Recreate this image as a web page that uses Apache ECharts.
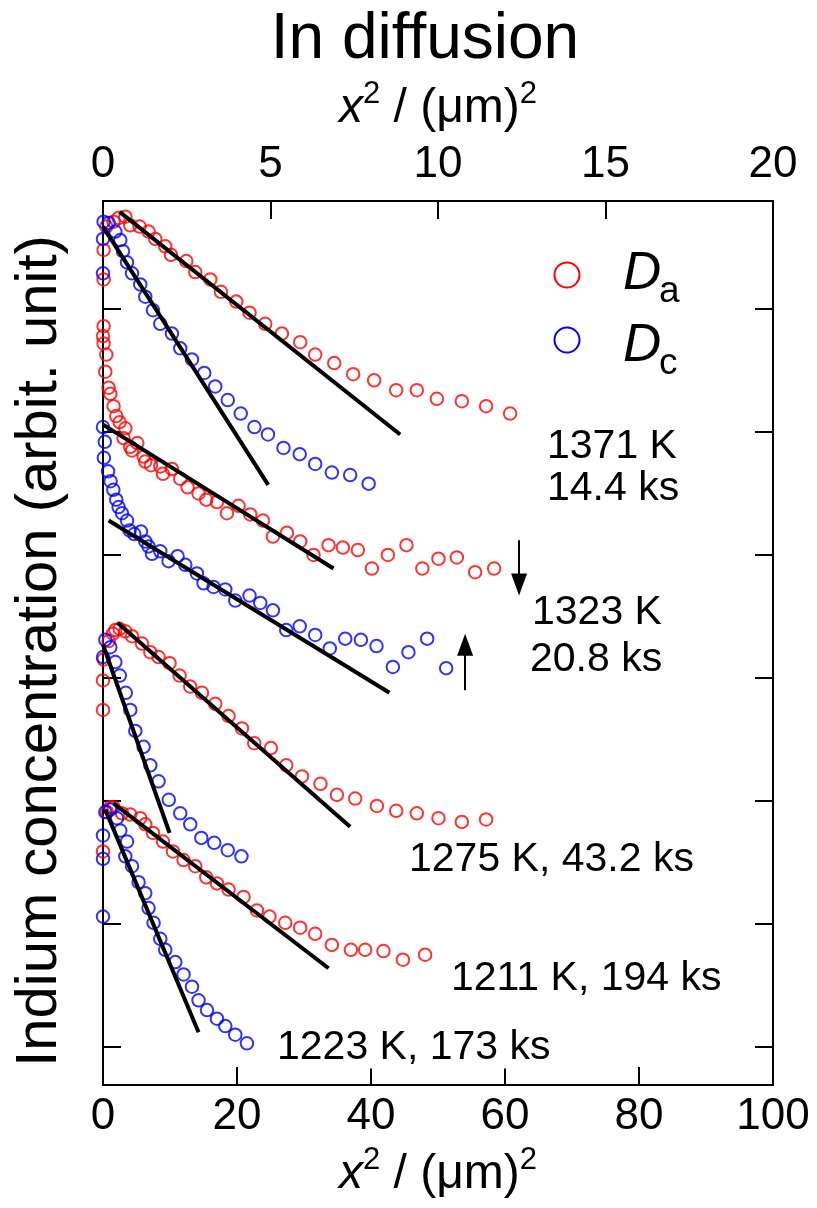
<!DOCTYPE html>
<html>
<head>
<meta charset="utf-8">
<script src="https://cdn.jsdelivr.net/npm/echarts@6/dist/echarts.min.js"></script>
<style>
  html, body { margin: 0; padding: 0; background: #fff; }
  #chart { width: 817px; height: 1208px; }
</style>
</head>
<body>
<div id="chart"></div>
<script>
// Indium depth profiles: x^2 in (um)^2 versus concentration (arbitrary, log-scaled offsets)
const bottomTicks = [0, 20, 40, 60, 80, 100];
const topTicks = [0, 5, 10, 15, 20];
const yTicks = [0, 1, 2, 3, 4, 5, 6];

// 1371 K, 14.4 ks
const da1371 = [[0.09,6.24],[0.09,6.48],[0.49,6.67],[1.58,6.71],[2.33,6.74],[3.33,6.75],[4.07,6.68],[5.46,6.67],[6.80,6.63],[7.80,6.57],[9.29,6.51],[10.14,6.44],[12.43,6.39],[13.77,6.30],[16.01,6.24],[17.60,6.14],[19.89,6.06],[21.87,5.97],[24.21,5.88],[26.70,5.80],[29.43,5.73],[31.67,5.63],[34.51,5.56],[37.34,5.47],[40.47,5.42],[43.76,5.34],[46.84,5.34],[49.83,5.27],[53.56,5.25],[57.18,5.21],[60.76,5.15]];
const dc1371 = [[0,6.29],[0,6.57],[0.09,6.71],[0.84,6.70],[1.84,6.63],[2.58,6.56],[2.98,6.47],[3.58,6.38],[4.33,6.29],[5.56,6.20],[6.31,6.10],[7.46,5.99],[8.55,5.88],[10.29,5.80],[11.53,5.68],[13.28,5.59],[15.11,5.48],[16.75,5.37],[18.62,5.26],[20.56,5.15],[22.60,5.04],[24.62,4.98],[26.94,4.87],[29.36,4.82],[31.67,4.74],[34.16,4.67],[36.89,4.65],[39.65,4.58]];

// 1323 K, 20.8 ks
const da1323 = [[0,5.78],[0.09,5.86],[0.09,5.72],[0.34,5.49],[0.49,5.63],[0.84,5.36],[1.09,5.31],[1.58,5.21],[1.98,5.13],[2.48,5.08],[3.07,4.95],[3.33,5.03],[4.07,4.88],[4.33,4.85],[5.12,4.91],[6.06,4.80],[6.31,4.76],[7.16,4.73],[8.55,4.72],[8.95,4.66],[10.29,4.70],[11.53,4.62],[12.62,4.55],[14.26,4.50],[15.41,4.45],[17.01,4.43],[18.50,4.34],[20.23,4.40],[21.98,4.33],[23.87,4.28],[25.36,4.15],[27.45,4.18],[29.43,4.11],[31.42,4.00],[33.66,4.08],[35.80,4.06],[38.04,4.04],[40.13,3.89],[42.52,4.00],[45.29,4.08],[47.66,3.89],[50.07,3.97],[52.81,3.98],[55.54,3.86],[58.38,3.89]];
const dc1323 = [[0,5.04],[0.13,4.79],[0.27,4.92],[0.76,4.68],[1.13,4.60],[1.54,4.53],[1.98,4.45],[2.33,4.39],[2.83,4.34],[3.58,4.28],[3.97,4.20],[4.67,4.17],[5.67,4.19],[6.31,4.11],[6.80,4.07],[7.31,4.01],[8.55,4.03],[9.79,3.95],[11.13,3.99],[12.28,3.92],[14.02,3.85],[15.01,3.77],[16.50,3.74],[18.25,3.72],[19.74,3.63],[21.87,3.67],[23.47,3.61],[25.36,3.55],[27.35,3.39],[29.36,3.42],[31.67,3.35],[33.85,3.24],[36.15,3.32],[38.49,3.31],[40.82,3.26],[43.26,3.09],[45.59,3.21],[48.38,3.32],[51.22,3.08]];

// 1275 K, 43.2 ks
const da1275 = [[0,2.74],[0,2.98],[0.09,3.15],[0.84,3.30],[1.49,3.36],[1.84,3.39],[2.48,3.40],[3.33,3.38],[4.33,3.34],[5.82,3.28],[7.06,3.21],[8.29,3.17],[9.94,3.12],[11.43,3.02],[13.02,2.93],[14.77,2.88],[16.75,2.79],[18.74,2.69],[20.74,2.59],[22.57,2.47],[25.06,2.43],[27.35,2.29],[29.69,2.20],[32.46,2.14],[34.91,2.05],[37.64,2.02],[40.88,1.96],[43.76,1.92],[46.84,1.90],[50.07,1.86],[53.56,1.83],[57.18,1.85]];
const dc1275 = [[0,3.17],[0.34,3.31],[1.09,3.25],[1.84,3.13],[2.51,3.02],[3.40,2.88],[4.07,2.74],[4.82,2.57],[6.06,2.44],[7.06,2.29],[8.29,2.16],[9.82,2.01],[11.53,1.90],[13.02,1.81],[14.67,1.70],[16.60,1.66],[18.62,1.60],[20.66,1.55]];

// 1211 K, 194 ks (Da) and 1223 K, 173 ks (Dc)
const da1211 = [[0,1.59],[0.60,1.91],[1.09,1.95],[1.58,1.95],[2.83,1.90],[4.07,1.89],[5.56,1.86],[6.31,1.81],[7.46,1.74],[8.95,1.67],[10.44,1.59],[12.02,1.52],[13.77,1.47],[15.41,1.38],[17.01,1.33],[18.74,1.28],[20.98,1.22],[22.97,1.11],[24.85,1.06],[27.20,1.01],[29.43,0.97],[31.67,0.92],[34.16,0.83],[37.00,0.79],[39.13,0.79],[41.86,0.78],[44.76,0.71],[48.08,0.75]];
const dc1223 = [[0,1.06],[0,1.53],[0,1.72],[0.34,1.91],[1.09,1.93],[2.09,1.86],[2.58,1.76],[3.33,1.55],[3.58,1.67],[4.33,1.47],[5.31,1.34],[6.31,1.25],[6.80,1.13],[7.55,1.01],[8.55,0.88],[9.29,0.79],[10.79,0.69],[12.02,0.59],[13.28,0.49],[14.26,0.38],[15.52,0.30],[17.01,0.23],[18.25,0.17],[19.74,0.10],[21.48,0.03]];

// Linear fits (Gaussian solution: ln C vs x^2)
const fit1371a = [[2.48,6.79],[44.35,4.98]];
const fit1371c = [[0,6.67],[24.66,4.57]];
const fit1323a = [[0,5.06],[34.40,3.89]];
const fit1323c = [[0.84,4.28],[42.76,2.88]];
const fit1275a = [[2.18,3.45],[36.89,1.79]];
const fit1275c = [[0,3.27],[9.94,1.74]];
const fit1211a = [[1.58,1.98],[33.66,0.64]];
const fit1223c = [[0.34,1.93],[14.26,0.12]];

// Arrows marking the 1323 K pair: [x, yFrom, yTo]
const arrowDown = [62.1, 4.12, 3.76];
const arrowUp = [54.05, 2.90, 3.27];

const RED = '#ff0000', BLUE = '#0000ff';
const FONT = '"Liberation Sans", Arial, Helvetica, sans-serif';

const chart = echarts.init(document.getElementById('chart'), null, { renderer: 'canvas' });

function scatter(name, data, color) {
  return {
    name, type: 'scatter', data, symbol: 'circle', symbolSize: 12.5,
    itemStyle: { color: 'rgba(0,0,0,0)', borderColor: color, borderWidth: 2 },
    z: 3, silent: true
  };
}
function fit(data) {
  return {
    type: 'line', data, symbol: 'none', silent: true,
    lineStyle: { color: '#000', width: 4, cap: 'butt' }, z: 4
  };
}
function arrow(a) {
  return [{ coord: [a[0], a[1]], symbol: 'none' }, { coord: [a[0], a[2]], symbol: 'triangle' }];
}

const axisName = '{i|x}{s|2}{t| / (μm)}{s|2}';
const nameRich = {
  i: { fontFamily: FONT, fontStyle: 'italic', fontSize: 48, lineHeight: 54, color: '#000', verticalAlign: 'bottom' },
  t: { fontFamily: FONT, fontSize: 48, lineHeight: 54, color: '#000', verticalAlign: 'bottom' },
  s: { fontFamily: FONT, fontSize: 31, lineHeight: 31, color: '#000', verticalAlign: 'top' }
};

const frame = { show: true, onZero: false, lineStyle: { color: '#000', width: 2 } };

const option = {
  animation: false,
  backgroundColor: '#fff',
  grid: { left: 103, right: 44, top: 201, bottom: 123, containLabel: false },
  xAxis: [
    {
      type: 'value', position: 'bottom', min: 0, max: 100, interval: 20,
      axisLine: frame,
      axisTick: { show: true, inside: true, length: 18, customValues: bottomTicks, lineStyle: { color: '#000', width: 2 } },
      axisLabel: { customValues: bottomTicks, fontFamily: FONT, fontSize: 44, color: '#000', margin: 10 },
      splitLine: { show: false },
      name: axisName, nameLocation: 'middle', nameGap: 60,
      nameTextStyle: { rich: nameRich }
    },
    {
      type: 'value', position: 'top', min: 0, max: 20, interval: 5,
      axisLine: frame,
      axisTick: { show: true, inside: true, length: 18, customValues: topTicks, lineStyle: { color: '#000', width: 2 } },
      axisLabel: { customValues: topTicks, fontFamily: FONT, fontSize: 44, color: '#000', margin: 14 },
      splitLine: { show: false },
      name: axisName, nameLocation: 'middle', nameGap: 68,
      nameTextStyle: { rich: nameRich }
    }
  ],
  yAxis: [
    {
      type: 'value', position: 'left', min: -0.309, max: 6.878,
      axisLine: frame,
      axisTick: { show: true, inside: true, length: 18, customValues: yTicks, lineStyle: { color: '#000', width: 2 } },
      axisLabel: { show: false },
      splitLine: { show: false }
    },
    {
      type: 'value', position: 'right', min: -0.309, max: 6.878,
      axisLine: frame,
      axisTick: { show: true, inside: true, length: 18, customValues: yTicks, lineStyle: { color: '#000', width: 2 } },
      axisLabel: { show: false },
      splitLine: { show: false }
    }
  ],
  series: [
    scatter('Da', da1371, RED), scatter('Dc', dc1371, BLUE),
    scatter('Da', da1323, RED), scatter('Dc', dc1323, BLUE),
    scatter('Da', da1275, RED), scatter('Dc', dc1275, BLUE),
    scatter('Da', da1211, RED), scatter('Dc', dc1223, BLUE),
    fit(fit1371a), fit(fit1371c), fit(fit1323a), fit(fit1323c),
    fit(fit1275a), fit(fit1275c), fit(fit1211a), fit(fit1223c),
    {
      type: 'line', data: [], silent: true,
      markLine: {
        silent: true, symbolSize: [16, 22], label: { show: false },
        lineStyle: { color: '#000', width: 2, type: 'solid' },
        itemStyle: { color: '#000' },
        data: [arrow(arrowDown), arrow(arrowUp)]
      }
    }
  ],
  graphic: [
    { type: 'text', x: 425, y: 40, style: { text: 'In diffusion', fontFamily: FONT, fontSize: 64, fill: '#000', textAlign: 'center', textVerticalAlign: 'middle' } },
    // vertical axis title
    { type: 'text', x: 40, y: 651, rotation: Math.PI / 2, style: { text: 'Indium concentration (arbit. unit)', fontFamily: FONT, fontSize: 58, fill: '#000', textAlign: 'center', textVerticalAlign: 'middle' } },
    // legend
    { type: 'circle', shape: { cx: 567, cy: 275, r: 12.5 }, style: { fill: 'none', stroke: RED, lineWidth: 2 } },
    { type: 'circle', shape: { cx: 567, cy: 340, r: 12.5 }, style: { fill: 'none', stroke: BLUE, lineWidth: 2 } },
    { type: 'text', x: 623, y: 274, style: { text: 'D', fontFamily: FONT, fontStyle: 'italic', fontSize: 53, fill: '#000', textVerticalAlign: 'middle' } },
    { type: 'text', x: 659, y: 292, style: { text: 'a', fontFamily: FONT, fontSize: 37, fill: '#000', textVerticalAlign: 'middle' } },
    { type: 'text', x: 623, y: 346, style: { text: 'D', fontFamily: FONT, fontStyle: 'italic', fontSize: 53, fill: '#000', textVerticalAlign: 'middle' } },
    { type: 'text', x: 659, y: 364, style: { text: 'c', fontFamily: FONT, fontSize: 37, fill: '#000', textVerticalAlign: 'middle' } },
    // sample conditions
    { type: 'text', x: 547, y: 447, style: { text: '1371 K', fontFamily: FONT, fontSize: 41, fill: '#000', textVerticalAlign: 'middle' } },
    { type: 'text', x: 547, y: 489, style: { text: '14.4 ks', fontFamily: FONT, fontSize: 41, fill: '#000', textVerticalAlign: 'middle' } },
    { type: 'text', x: 532, y: 613, style: { text: '1323 K', fontFamily: FONT, fontSize: 41, fill: '#000', textVerticalAlign: 'middle' } },
    { type: 'text', x: 530, y: 660, style: { text: '20.8 ks', fontFamily: FONT, fontSize: 41, fill: '#000', textVerticalAlign: 'middle' } },
    { type: 'text', x: 409, y: 860, style: { text: '1275 K, 43.2 ks', fontFamily: FONT, fontSize: 41, fill: '#000', textVerticalAlign: 'middle' } },
    { type: 'text', x: 451, y: 979, style: { text: '1211 K, 194 ks', fontFamily: FONT, fontSize: 41, fill: '#000', textVerticalAlign: 'middle' } },
    { type: 'text', x: 277, y: 1048, z: 10, style: { text: '1223 K, 173 ks', fontFamily: FONT, fontSize: 41, fill: '#000', textVerticalAlign: 'middle', backgroundColor: '#fff' } }
  ]
};

chart.setOption(option);
</script>
</body>
</html>
